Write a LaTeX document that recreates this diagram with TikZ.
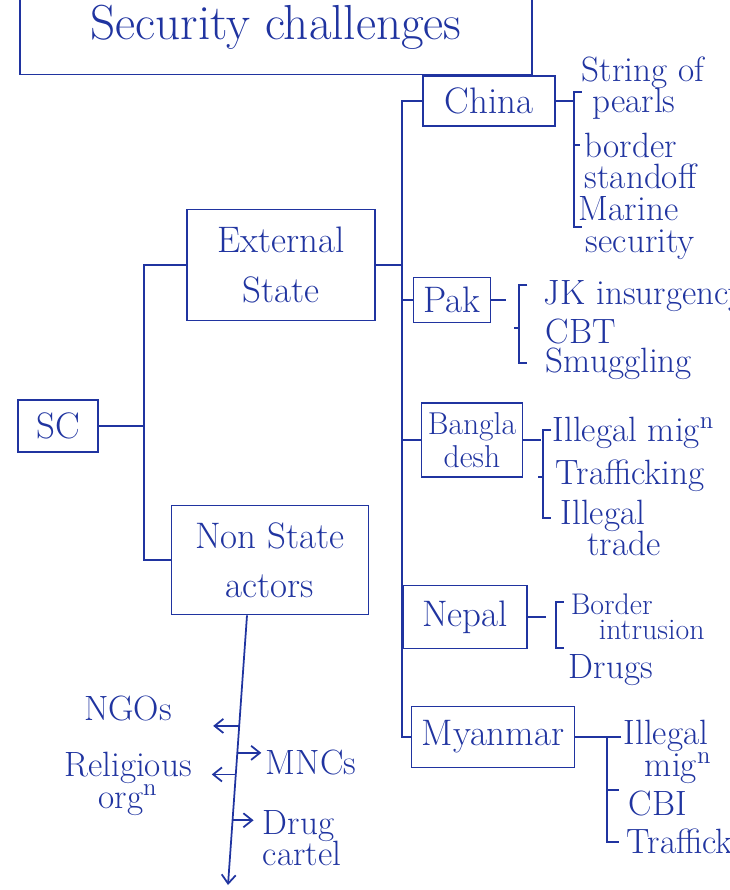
\documentclass[tikz,border=0pt]{standalone}
\usepackage{xcolor}
\usepackage{tikz}
\usetikzlibrary{arrows.meta,positioning,calc}
\definecolor{ink}{RGB}{32,52,160}

\begin{document}
\begin{tikzpicture}[x=0.02cm,y=-0.02cm,color=ink,line width=1pt,
  box/.style={draw,rectangle,align=center,inner sep=2pt,font=\fontsize{21}{28}\selectfont},
  leaf/.style={anchor=west,align=left,inner sep=0pt,font=\fontsize{20}{18}\selectfont},
  tip/.style={-{Straight Barb[length=5pt,width=8pt]}}]
  \useasboundingbox (0,0) rectangle (730,890);
  \clip (0,0) rectangle (730,890);

  % main boxes
  \node[box,minimum width=10.24cm,minimum height=1.9cm,font=\fontsize{28}{30}\selectfont] (title) at (276,27) {Security challenges};
  \node[box,minimum width=1.6cm,minimum height=1.04cm] (sc) at (58,426) {SC};
  \node[box,minimum width=3.76cm,minimum height=2.22cm] (ext) at (281,265) {External\\State};
  \node[box,minimum width=3.94cm,minimum height=2.18cm] (nsa) at (270,560) {Non State\\actors};

  % countries
  \node[box,minimum width=2.64cm,minimum height=1.0cm] (china) at (489,101) {China};
  \node[box,minimum width=1.54cm,minimum height=0.9cm] (pak) at (452,300) {Pak};
  \node[box,minimum width=2.02cm,minimum height=1.48cm,font=\fontsize{18}{19}\selectfont] (bangla) at (472,440) {Bangla\\desh};
  \node[box,minimum width=2.48cm,minimum height=1.26cm] (nepal) at (465,617) {Nepal};
  \node[box,minimum width=3.26cm,minimum height=1.22cm] (myanmar) at (493,737) {Myanmar};

  \draw (ext.west) -- ++(-42,0) coordinate (lb) |- (nsa.west);
  \draw (sc.east) -- (sc.east -| lb);
  \draw (china.west) -- ++(-20,0) coordinate (cb) |- (myanmar.west);
  \draw (ext.east) -- (ext.east -| cb);
  \foreach \c in {pak,bangla,nepal}
    \draw (\c.west) -- (\c.west -| cb);

  % threats
  \node[leaf] (pearls) at (581,88) {String of\\\hspace*{6pt}pearls};
  \node[leaf] (standoff) at (584,161) {border\\standoff};
  \node[leaf] (marine) at (578,228) {Marine\\\hspace*{4pt}security};
  \node[leaf] (jk) at (543,296) {JK insurgency};
  \node[leaf] (cbt) at (545,331) {CBT};
  \node[leaf] (smug) at (545,364) {Smuggling};
  \node[leaf] (migb) at (552,433) {Illegal mig\textsuperscript{n}};
  \node[leaf] (traffb) at (555,476) {Trafficking};
  \node[leaf] (trade) at (560,528) {Illegal\\\hspace*{15pt}trade};
  \node[leaf,font=\fontsize{17}{14}\selectfont] (intrusion) at (570,617) {Border\\\hspace*{16pt}intrusion};
  \node[leaf] (drugs) at (568,670) {Drugs};
  \node[leaf] (migm) at (623,752) {Illegal\\\hspace*{12pt}mig\textsuperscript{n}};
  \node[leaf] (cbi) at (628,803) {CBI};
  \node[leaf] (traffm) at (626,845) {Trafficking};

  \draw (china.east) -- ++(18,0) coordinate (chb);
  \draw ($(chb)+(8,-9)$) -- ++(-8,0) -- ++(0,135) -- ++(8,0);
  \draw ($(chb)+(0,44)$) -- ++(6,0);
  \draw (pak.east) -- ++(15,0) coordinate (pkb);
  \draw ($(pkb)+(21,-15)$) -- ++(-8,0) -- ++(0,78) -- ++(8,0);
  \draw ($(pkb)+(13,28)$) -- ++(-5,0);
  \draw (bangla.east) -- ++(18,0) coordinate (bdb);
  \draw ($(bdb)+(10,-10)$) -- ++(-8,0) -- ++(0,88) -- ++(8,0);
  \draw ($(bdb)+(2,37)$) -- ++(-5,0);
  \draw (nepal.east) -- ++(18,0) coordinate (npb);
  \draw ($(npb)+(18,-15)$) -- ++(-8,0) -- ++(0,46) -- ++(8,0);
  \draw (myanmar.east) -- ++(32,0) coordinate (mmb);
  \draw ($(mmb)+(14,0)$) -- (mmb) -- ++(0,105) -- ++(12,0);
  \draw ($(mmb)+(0,53)$) -- ++(12,0);

  % non state actors
  \node[inner sep=0pt,font=\fontsize{20}{18}\selectfont] (ngo) at (128,708) {NGOs};
  \node[inner sep=0pt,align=center,font=\fontsize{20}{18}\selectfont] (relig) at (128,784) {Religious\\org\textsuperscript{n}};
  \node[leaf] (mnc) at (265,762) {MNCs};
  \node[leaf] (cartel) at (262,838) {Drug\\cartel};

  \coordinate (tend) at (228,885);
  \draw[tip] ([xshift=-0.46cm]nsa.south) coordinate (tstart) -- (tend);
  \path (tstart) -- (tend) coordinate[pos=0.41] (n1) coordinate[pos=0.51] (n2)
    coordinate[pos=0.59] (n3) coordinate[pos=0.76] (n4);
  \draw[tip] (n1) -- ++(-26,0);
  \draw[tip] (n2) -- ++(24,0);
  \draw[tip] (n3) -- ++(-24,0);
  \draw[tip] (n4) -- ++(21,0);
\end{tikzpicture}
\end{document}
